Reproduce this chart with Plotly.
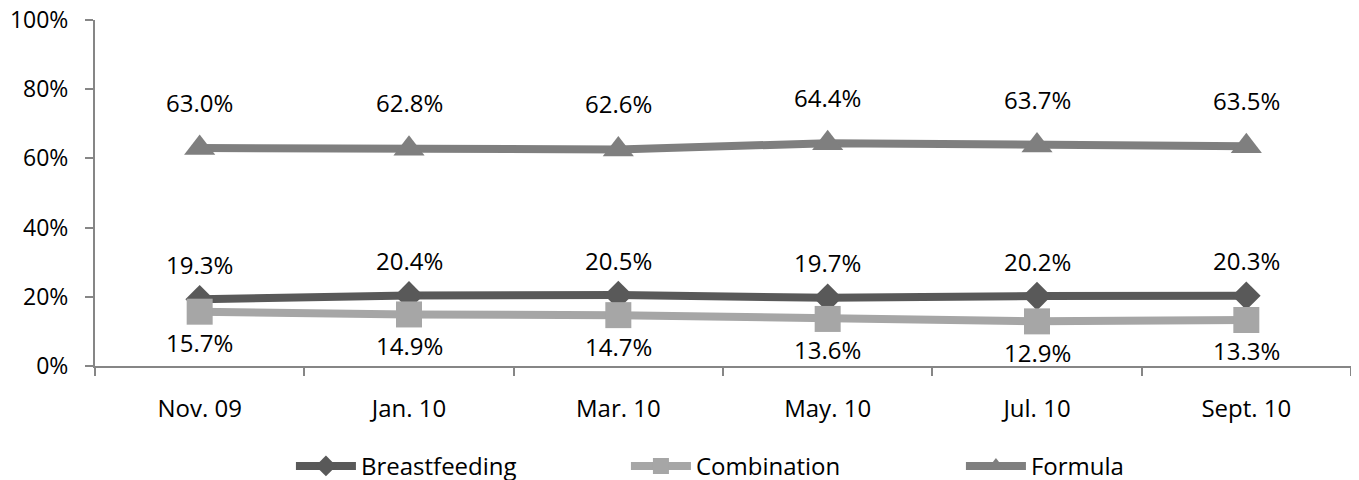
import plotly.graph_objects as go

categories = ["Nov. 09", "Jan. 10", "Mar. 10", "May. 10", "Jul. 10", "Sept. 10"]
breastfeeding = [19.3, 20.4, 20.5, 19.7, 20.2, 20.3]
combination = [15.7, 14.9, 14.7, 13.6, 12.9, 13.3]
formula = [63.0, 62.8, 62.6, 64.4, 63.7, 63.5]
y_ticks = [0, 20, 40, 60, 80, 100]

FONT = "Open Sans, Liberation Sans, sans-serif"
FS = 24

series = [
    ("Breastfeeding", breastfeeding, "#595959", "diamond", 22, 35),
    ("Combination", combination, "#A6A6A6", "square", 26, -31),
    ("Formula", formula, "#7F7F7F", "triangle-up", 27, 46),
]

fig = go.Figure()
annotations = []
for name, vals, color, sym, msize, shift in series:
    fig.add_trace(go.Scatter(
        x=categories, y=vals, name=name, mode="lines+markers",
        line=dict(color=color, width=8),
        marker=dict(symbol=sym, size=msize, color=color),
    ))
    for c, v in zip(categories, vals):
        annotations.append(dict(
            x=c, y=v, text=f"{v:.1f}%", showarrow=False, yshift=shift,
            font=dict(family=FONT, size=FS, color="#000000"),
        ))

fig.update_layout(
    width=1359, height=480,
    margin=dict(l=87, r=16, t=12, b=122, autoexpand=False),
    plot_bgcolor="white", paper_bgcolor="white",
    font=dict(family=FONT, size=FS, color="#000000"),
    showlegend=True,
    legend=dict(orientation="h", x=0.156, xanchor="left", y=-0.225, yanchor="top",
                font=dict(size=FS), itemwidth=60, tracegroupgap=0,
                entrywidth=260, entrywidthmode="pixels"),
    annotations=annotations,
)
fig.update_xaxes(
    type="category", range=[-0.5, 5.5], showgrid=False, automargin=False,
    showline=True, linecolor="#868686", linewidth=2,
    ticks="outside", tickson="boundaries", ticklen=8, tickcolor="#868686", tickwidth=2,
    ticklabelstandoff=20, ticklabeloverflow="allow",
)
fig.update_yaxes(
    range=[0, 100], tickvals=y_ticks, ticktext=[f"{t}%" for t in y_ticks],
    showgrid=False, zeroline=False, automargin=False,
    showline=True, linecolor="#868686", linewidth=2,
    ticks="outside", ticklen=8, tickcolor="#868686", tickwidth=2,
    ticklabelstandoff=12, ticklabeloverflow="allow",
    tickfont=dict(size=23),
)

fig.write_html("out.html")
